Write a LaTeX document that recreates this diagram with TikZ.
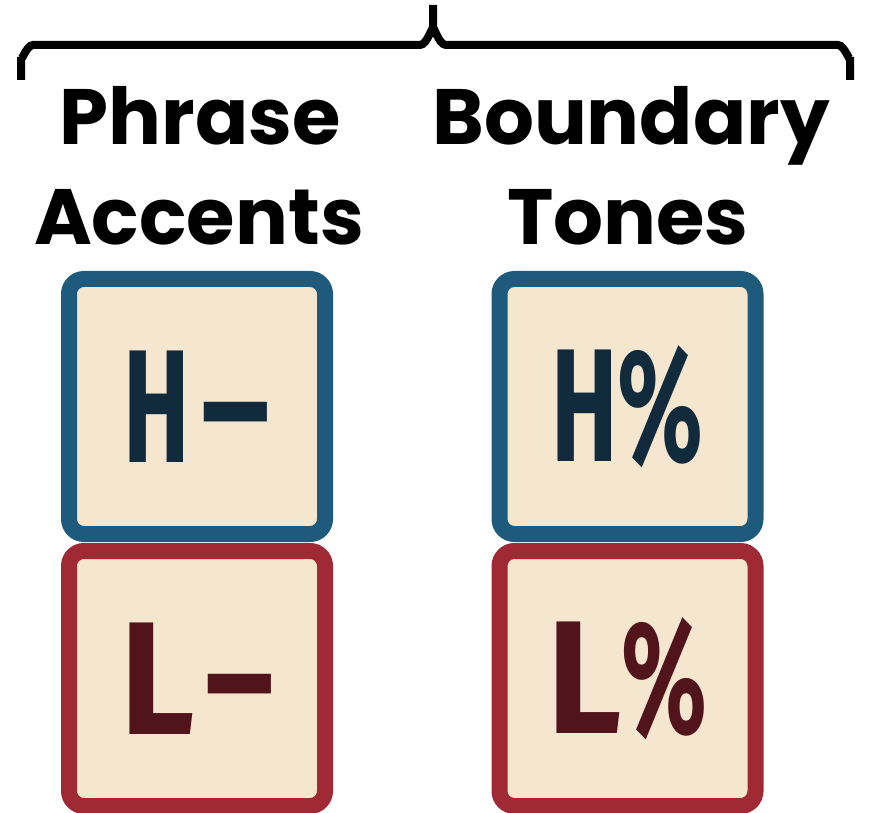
\documentclass[tikz,border=0pt]{standalone}
\usepackage{fontspec}
\setmainfont{Poppins}
\newfontfamily\boxfont{Fira Sans}
\definecolor{bluebd}{HTML}{1E5A7B}
\definecolor{redbd}{HTML}{A02936}
\definecolor{cream}{HTML}{F5E6D0}
\definecolor{navy}{HTML}{112B3D}
\definecolor{maroon}{HTML}{52141B}
\tikzset{
  tilebox/.style={draw, fill=cream, line width=16pt, rounded corners=15pt,
    minimum width=256pt, minimum height=255pt, inner sep=0pt},
  bluetile/.style={tilebox, draw=bluebd, text=navy},
  redtile/.style={tilebox, draw=redbd, text=maroon},
  headword/.style={font=\fontsize{78.5}{100}\selectfont\bfseries, anchor=base, inner sep=0pt},
  bracestroke/.style={line width=8pt, black},
}
\newcommand{\tilefont}{\boxfont\bfseries\fontsize{161}{161}\selectfont}
\newcommand{\tg}[2]{\scalebox{#1}[1]{#2}}
\begin{document}
\begin{tikzpicture}[x=1pt,y=-1pt]
\useasboundingbox (0,0) rectangle (871,813);
% brace
\draw[bracestroke] (21,80) -- (21,57) to[out=-90,in=180] (33,45) -- (420,45) to[out=0,in=90] (433,30) -- (433,5);
\draw[bracestroke] (850,80) -- (850,57) to[out=-90,in=0] (838,45) -- (446,45) to[out=180,in=90] (433,30);
% headers
\node[headword] (ph) at (200,145) {Phrase};
\node[headword] (ac) at (199,245) {Accents};
\node[headword] (bo) at (631,145) {Boundary};
\node[headword] (to) at (628,245) {Tones};
% tiles
\node[redtile] (lm) at (197,678.5) {\tilefont\tg{0.9}{L}\hspace{11pt}\tg{0.82}{–}};
\node[redtile] (lp) at (627.5,678.5) {\tilefont\tg{0.9}{L}\tg{0.62}{\%}};
\node[bluetile] (hm) at (197,406.5) {\tilefont\tg{0.62}{H}\hspace{11pt}\tg{0.82}{–}};
\node[bluetile] (hp) at (627.5,406.5) {\tilefont\tg{0.62}{H}\tg{0.62}{\%}};
\end{tikzpicture}
\end{document}
